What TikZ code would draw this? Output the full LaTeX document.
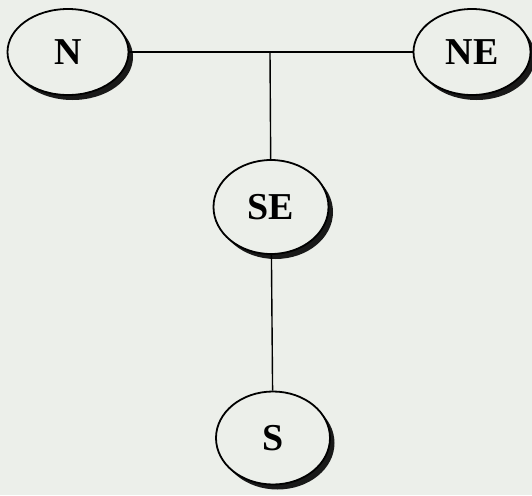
\documentclass[tikz,border=0pt]{standalone}
\usepackage{fontspec}
\setmainfont{Liberation Serif}
\usetikzlibrary{shapes.geometric,shadows}
\definecolor{paper}{RGB}{236,239,234}
\begin{document}
\begin{tikzpicture}[x=1pt, y=-1pt,
    dirbox/.style={ellipse, draw, line width=1.8pt, fill=paper, inner sep=0pt,
        font=\fontsize{38}{38}\selectfont\bfseries,
        general shadow={fill=black!90, shadow xshift=4.5pt, shadow yshift=-5pt}}]
\fill[paper] (0,0) rectangle (532,495);
\useasboundingbox (0,0) rectangle (532,495);
\node[dirbox, minimum width=121pt, minimum height=86pt] (n) at (68,52) {N};
\node[dirbox, minimum width=117pt, minimum height=86pt] (ne) at (472,52) {NE};
\node[dirbox, minimum width=115pt, minimum height=94pt] (se) at (271,207) {SE};
\node[dirbox, minimum width=114pt, minimum height=93pt] (s) at (273,438) {S};
\coordinate (t) at (270,53);
\draw[line width=1.4pt] (n) -- (ne);
\draw[line width=1.4pt] (t) -- (se);
\draw[line width=1.4pt] (se) -- (s);
\end{tikzpicture}
\end{document}
